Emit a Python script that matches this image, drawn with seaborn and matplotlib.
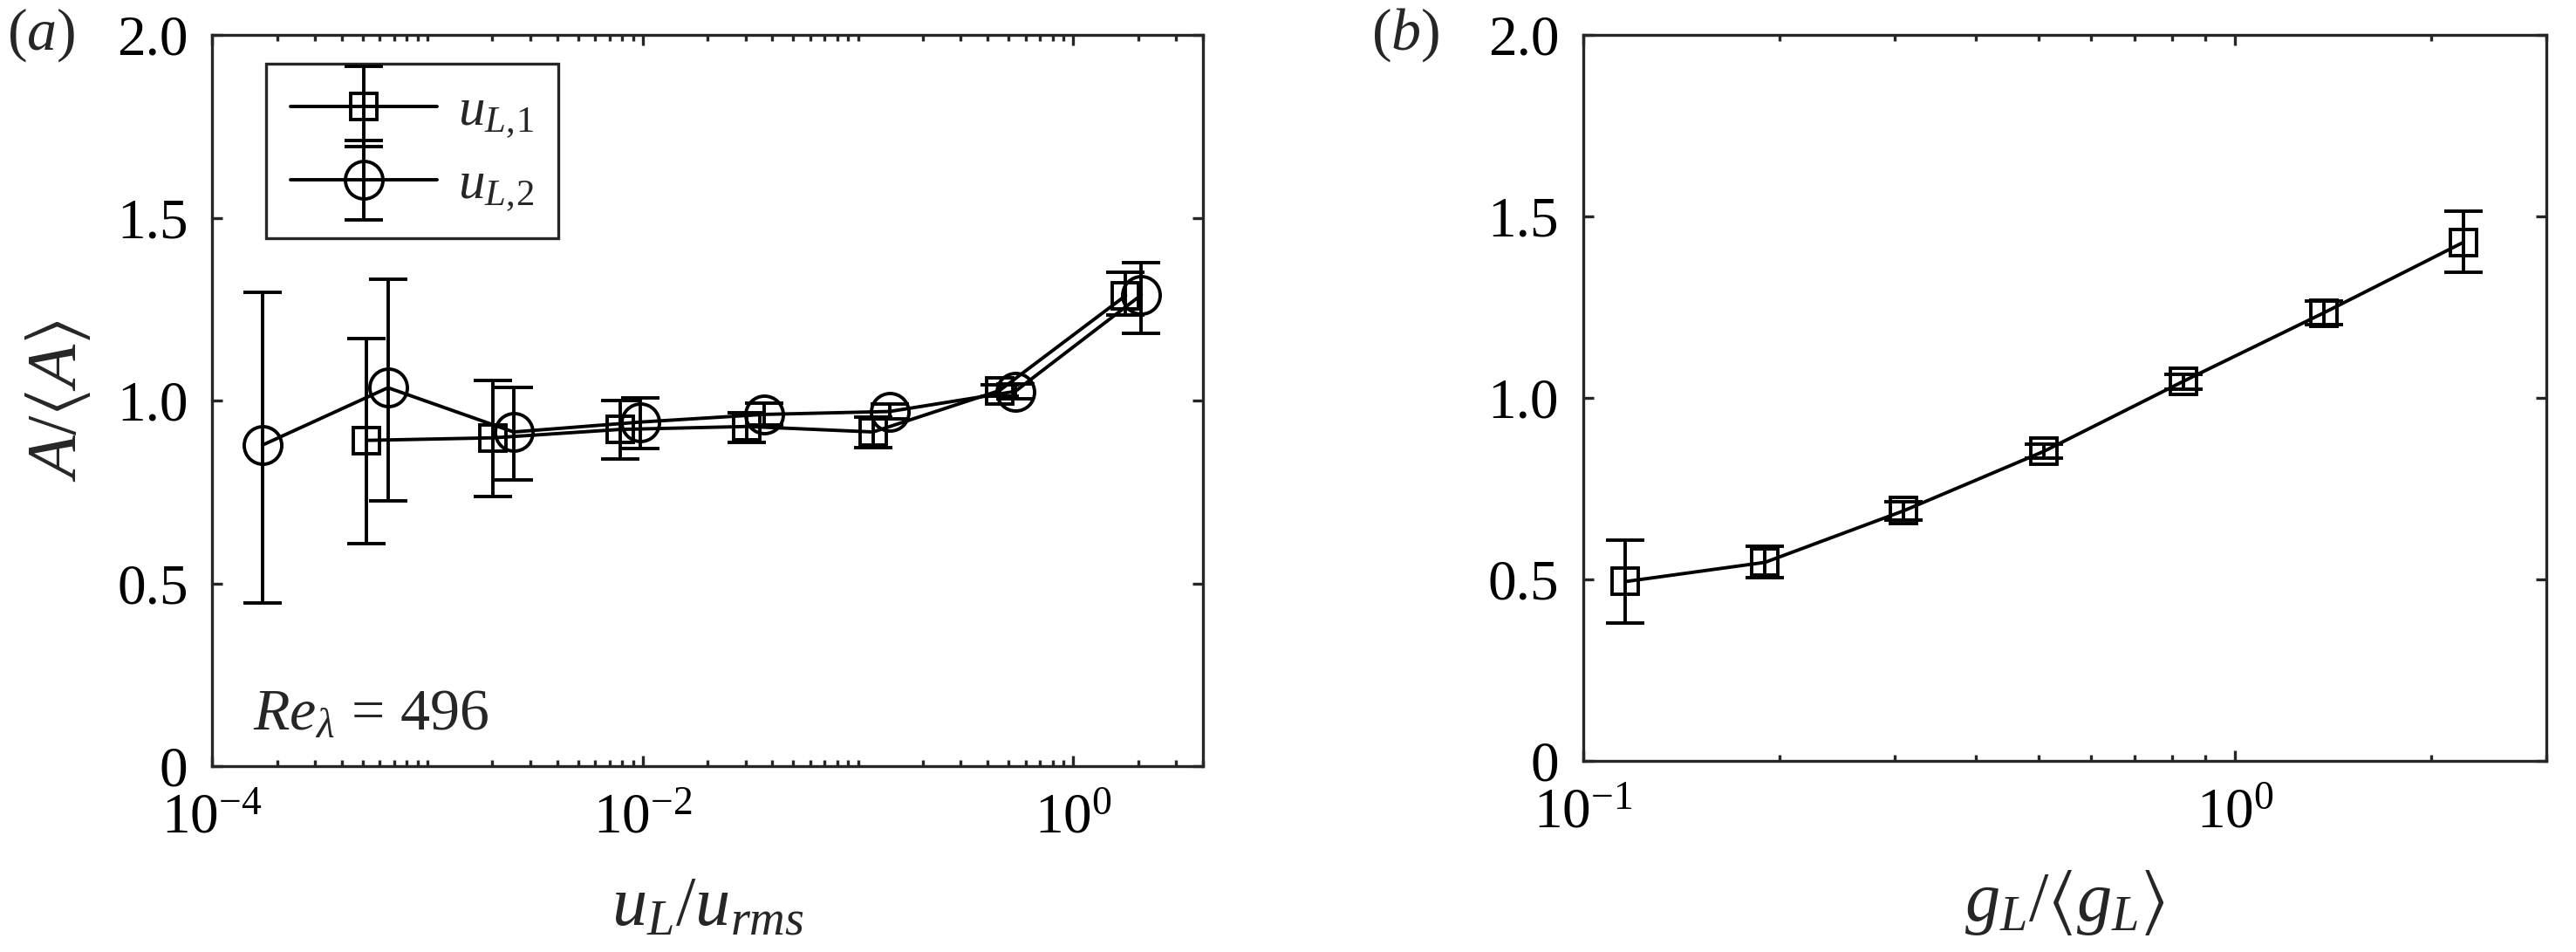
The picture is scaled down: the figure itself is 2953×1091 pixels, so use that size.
import numpy as np
import pandas as pd
import matplotlib
matplotlib.use("Agg")
import matplotlib.pyplot as plt
import seaborn as sns
from matplotlib.container import ErrorbarContainer
from matplotlib.legend_handler import HandlerErrorbar, HandlerTuple
from matplotlib.ticker import FixedLocator, FixedFormatter, NullFormatter

# ---------------- data ----------------
u1_x = [5.22e-4, 2.02e-3, 7.87e-3, 0.0305, 0.1175, 0.453, 1.75]
u1_y = [0.891, 0.898, 0.921, 0.929, 0.914, 1.027, 1.287]
u1_lo = [0.609, 0.738, 0.839, 0.886, 0.871, 1.013, 1.233]
u1_hi = [1.170, 1.056, 1.000, 0.967, 0.955, 1.042, 1.350]

u2_x = [1.71e-4, 6.55e-4, 2.51e-3, 9.7e-3, 0.0366, 0.140, 0.537, 2.07]
u2_y = [0.878, 1.035, 0.914, 0.941, 0.962, 0.970, 1.025, 1.289]
u2_lo = [0.446, 0.725, 0.784, 0.869, 0.932, 0.950, 1.005, 1.183]
u2_hi = [1.295, 1.332, 1.035, 1.007, 0.992, 0.990, 1.045, 1.378]

g_x = [0.116, 0.190, 0.310, 0.509, 0.833, 1.366, 2.24]
g_y = [0.494, 0.547, 0.689, 0.853, 1.046, 1.234, 1.429]
g_lo = [0.380, 0.505, 0.664, 0.833, 1.024, 1.203, 1.345]
g_hi = [0.609, 0.591, 0.714, 0.873, 1.064, 1.267, 1.514]

y_ticks = [0, 0.5, 1.0, 1.5, 2.0]
y_ticklabels = ["0", "0.5", "1.0", "1.5", "2.0"]
xa_ticks = [1e-4, 1e-2, 1e0]
xa_ticklabels = [r"$10^{-4}$", r"$10^{-2}$", r"$10^{0}$"]
xb_ticks = [1e-1, 1e0]
xb_ticklabels = [r"$10^{-1}$", r"$10^{0}$"]
legend_labels = [r"$u_{L,\!1}$", r"$u_{L,\!2}$"]

# ---------------- style ----------------
sns.set_theme(style="ticks")
plt.rcParams["font.family"] = ["Liberation Serif", "DejaVu Serif"]
plt.rcParams.update({
    "mathtext.fontset": "custom",
    "mathtext.rm": "Liberation Serif",
    "mathtext.it": "Liberation Serif:italic",
    "mathtext.bf": "Liberation Serif:bold",
    "mathtext.fallback": "stix",
    "axes.edgecolor": "#262626",
    "axes.linewidth": 2.4,
    "xtick.color": "#262626",
    "ytick.color": "#262626",
    "xtick.labelcolor": "black",
    "ytick.labelcolor": "black",
})

TICK_FS = 47
LAB_FS = 58
LW = 2.8
MEW = 2.8
CAP = 15.8

W, H = 2953, 1091
fig = plt.figure(figsize=(W / 100, H / 100), dpi=100)
ax_a = fig.add_axes([243.3 / W, 1 - 878 / H, (1379 - 243.3) / W, (878 - 40) / H])
ax_b = fig.add_axes([1815 / W, 1 - 872 / H, (2919 - 1815) / W, (872 - 40) / H])


def minor_positions(lo_exp, hi_exp, xmax):
    out = []
    for e in range(lo_exp, hi_exp + 1):
        for m in range(1, 10):
            v = m * 10.0 ** e
            if v <= xmax:
                out.append(v)
    return out


def style_axis(ax, xlim, majors, labels, minor_lo, minor_hi):
    ax.set_xscale("log")
    ax.set_xlim(*xlim)
    ax.set_ylim(0, 2.0)
    ax.xaxis.set_major_locator(FixedLocator(majors))
    ax.xaxis.set_major_formatter(FixedFormatter(labels))
    ax.xaxis.set_minor_locator(FixedLocator(minor_positions(minor_lo, minor_hi, xlim[1])))
    ax.xaxis.set_minor_formatter(NullFormatter())
    ax.set_yticks(y_ticks)
    ax.set_yticklabels(y_ticklabels)
    ax.tick_params(which="both", direction="in", top=True, right=True, width=2.4)
    ax.tick_params(which="major", length=8.6)
    ax.tick_params(which="minor", length=5)
    ax.tick_params(axis="y", labelsize=TICK_FS, pad=20)
    ax.tick_params(axis="x", labelsize=TICK_FS, pad=22)
    for s in ax.spines.values():
        s.set_visible(True)
        s.set_linewidth(2.4)
        s.set_color("#262626")


def series(ax, x, y, lo, hi, marker, ms):
    df = pd.DataFrame({"x": x, "y": y})
    sns.lineplot(data=df, x="x", y="y", ax=ax, color="black", lw=LW,
                 marker=marker, markersize=ms, markerfacecolor="none",
                 markeredgecolor="black", markeredgewidth=MEW,
                 errorbar=None, legend=False)
    line = ax.get_lines()[-1]
    yarr = np.asarray(y)
    err = [yarr - np.asarray(lo), np.asarray(hi) - yarr]
    eb = ax.errorbar(x, y, yerr=err, fmt="none", ecolor="black",
                     elinewidth=LW, capsize=CAP, capthick=LW)
    return eb, line


# panel (a)
style_axis(ax_a, (1e-4, 4.0), xa_ticks, xa_ticklabels, -4, 0)
eb1, l1 = series(ax_a, u1_x, u1_y, u1_lo, u1_hi, "s", 22)
eb2, l2 = series(ax_a, u2_x, u2_y, u2_lo, u2_hi, "o", 31)
ax_a.set_xlabel(r"$u_L/u_{rms}$", fontsize=LAB_FS, labelpad=26)
ax_a.set_ylabel(r"$A/\langle A\rangle$", fontsize=LAB_FS, labelpad=20)
ax_a.text(290 / W, 1 - 837 / H, r"$Re_{\lambda}\,=\,496$", transform=fig.transFigure,
          fontsize=49, ha="left", va="baseline")

leg = ax_a.legend([(eb1, l1), (eb2, l2)], legend_labels,
                  handler_map={tuple: HandlerTuple(ndivide=1, pad=0),
                               ErrorbarContainer: HandlerErrorbar(yerr_size=0.75)},
                  loc="upper left", bbox_to_anchor=((305 - 243.3) / (1379 - 243.3), 1 - (73 - 40) / 838),
                  borderaxespad=0, fontsize=44, handlelength=2.75, handletextpad=0.4,
                  labelspacing=0.4, borderpad=0.45, frameon=True, fancybox=False,
                  framealpha=1, edgecolor="#262626", numpoints=1)
leg.get_frame().set_linewidth(2.4)

# panel (b)
style_axis(ax_b, (0.1, 3.0), xb_ticks, xb_ticklabels, -1, 0)
series(ax_b, g_x, g_y, g_lo, g_hi, "s", 22)
ax_b.set_xlabel(r"$g_L/\langle g_L\rangle$", fontsize=LAB_FS, labelpad=24)
ax_b.set_ylabel("")

fig.text(8 / W, 1 - 40 / H, r"$(a)$", fontsize=49, ha="left", va="center")
fig.text(1572 / W, 1 - 40 / H, r"$(b)$", fontsize=49, ha="left", va="center")

fig.savefig("out.png", dpi=100)
